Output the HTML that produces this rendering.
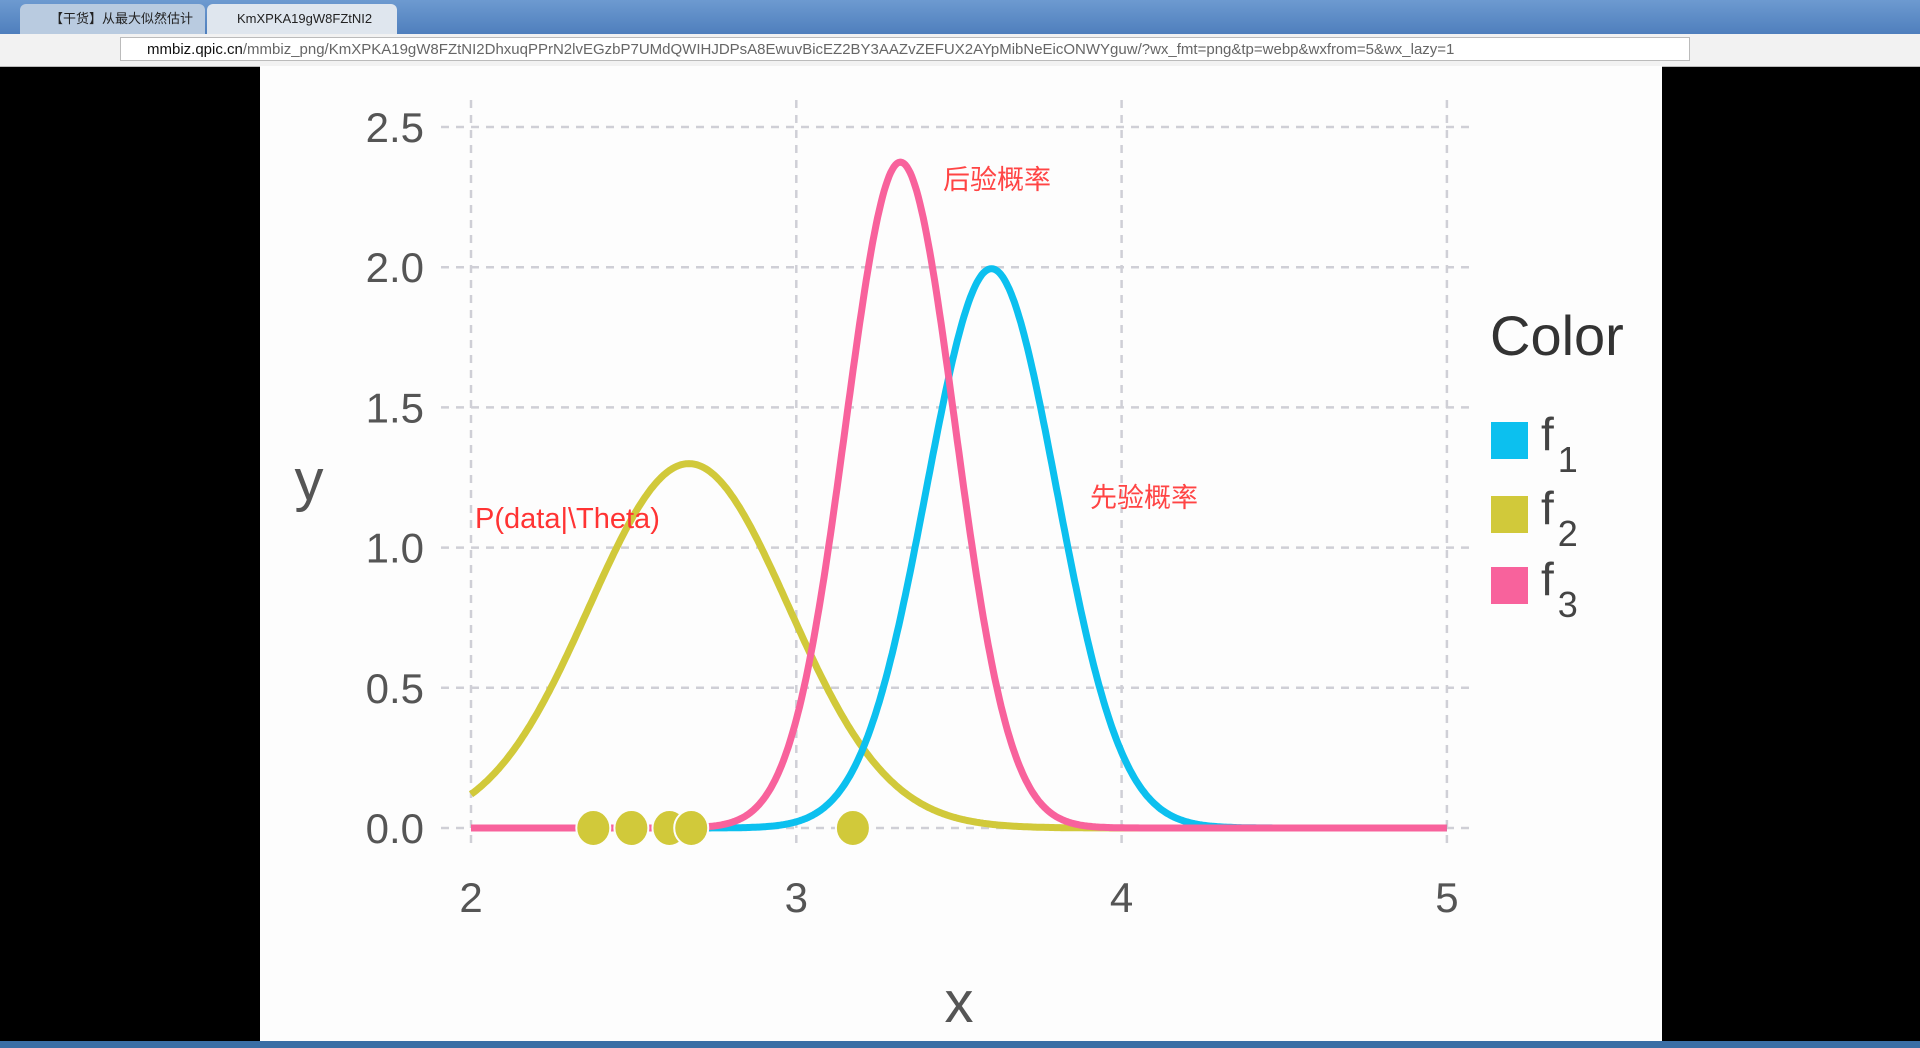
<!DOCTYPE html>
<html><head><meta charset="utf-8"><style>
html,body{margin:0;padding:0;width:1920px;height:1048px;overflow:hidden;background:#000;font-family:"Liberation Sans","Noto Sans CJK SC",sans-serif}
#tabs{position:absolute;left:0;top:0;width:1920px;height:34px;background:linear-gradient(#6d9ad0,#4f7fbd)}
.tab{position:absolute;top:4px;height:30px;background:#dfe6ee;border-radius:6px 6px 0 0;font-size:13px;line-height:30px;padding-left:30px;box-sizing:border-box;color:#222}
#addr{position:absolute;left:0;top:34px;width:1920px;height:32px;background:#f2f2f2;border-bottom:1px solid #bbb}
#url{position:absolute;left:120px;top:3px;width:1570px;height:24px;background:#fff;border:1px solid #bbb;font-size:15px;line-height:24px;padding-left:26px;box-sizing:border-box;color:#111;white-space:nowrap;overflow:hidden}
#task{position:absolute;left:0;top:1041px;width:1920px;height:7px;background:#3a6ea5}
svg{position:absolute;left:0;top:0}
</style></head><body>
<div id="tabs">
<div class="tab" style="left:20px;width:185px;background:#b9cbe0">【干货】从最大似然估计</div>
<div class="tab" style="left:207px;width:190px">KmXPKA19gW8FZtNI2</div>
</div>
<div id="addr">
<div id="url">mmbiz.qpic.cn<span style="color:#666">/mmbiz_png/KmXPKA19gW8FZtNI2DhxuqPPrN2lvEGzbP7UMdQWIHJDPsA8EwuvBicEZ2BY3AAZvZEFUX2AYpMibNeEicONWYguw/?wx_fmt=png&amp;tp=webp&amp;wxfrom=5&amp;wx_lazy=1</span></div>
</div>
<div id="task"></div>
<svg id="chart" width="1920" height="1048"></svg>
<script>
const xTicks=[2,3,4,5];
const yTicks=[0.0,0.5,1.0,1.5,2.0,2.5];
const seriesNames=["f1","f2","f3"];
const seriesMeans=[3.6,2.67,3.32];
const seriesSds=[0.2,0.307,0.168];
const seriesColors=["#0cc0ef","#d1c93a","#f8629c"];
const dataPoints=[2.376,2.493,2.61,2.677,3.174];

const NS="http://www.w3.org/2000/svg";
const svg=document.getElementById('chart');
function X(v){return 471+(v-2)*325.3;}
function Y(v){return 828-v*280.4;}
function el(t,a,p){const e=document.createElementNS(NS,t);for(const k in a)e.setAttribute(k,a[k]);(p||svg).appendChild(e);return e;}
const bg=el('rect',{x:260,y:66,width:1402,height:975,fill:'#fdfdfd'});


xTicks.forEach(t=>{
 const l=el('line',{x1:X(t),x2:X(t),y1:100,y2:847,stroke:'#cfcfd6','stroke-width':2.5,'stroke-dasharray':'8,7'});
 
 
 const s=el('text',{x:X(t),y:912,'text-anchor':'middle','font-size':42,fill:'#555'});s.textContent=t;
 
 
});
yTicks.forEach(t=>{
 const l=el('line',{x1:441,x2:1469,y1:Y(t),y2:Y(t),stroke:'#cfcfd6','stroke-width':2.5,'stroke-dasharray':'8,7'});
 
 
 const s=el('text',{x:424,y:Y(t)+15,'text-anchor':'end','font-size':42,fill:'#555'});s.textContent=t.toFixed(1);
 
 
});
function dens(x,m,s){return Math.exp(-0.5*((x-m)/s)**2)/(s*Math.sqrt(2*Math.PI));}
[1,0,2].forEach(i=>{
 let d='';for(let k=0;k<=600;k++){const x=2+3*k/600;d+=(k?'L':'M')+X(x).toFixed(1)+','+Y(dens(x,seriesMeans[i],seriesSds[i])).toFixed(1);}
 const p=el('path',{d:d,fill:'none',stroke:seriesColors[i],'stroke-width':7,'stroke-linejoin':'round'});
 
 
});
dataPoints.forEach(v=>{
 const c=el('ellipse',{cx:X(v),cy:Y(0),rx:17,ry:18,fill:'#d1c93a',stroke:'#fdfdfd','stroke-width':2});
 
 
});
function txt(s,a,name){const t=el('text',a);t.textContent=s;return t;}
txt('x',{x:959,y:1022,'text-anchor':'middle','font-size':58,fill:'#555'},'x-axis-title');
txt('y',{x:309,y:500,'text-anchor':'middle','font-size':58,fill:'#555'},'y-axis-title');
txt('后验概率',{x:943,y:189,'font-size':27,fill:'#f44'},'posterior-annotation');
txt('先验概率',{x:1090,y:507,'font-size':27,fill:'#f44'},'prior-annotation');
txt('P(data|\\Theta)',{x:475,y:528,'font-size':29,fill:'#f33'},'likelihood-annotation');
txt('Color',{x:1490,y:355,'font-size':56,fill:'#333'},'legend-title');
const ly=[422,496,567];
[0,1,2].forEach(i=>{
 const r=el('rect',{x:1491,y:ly[i],width:37,height:37,fill:seriesColors[i]});
 
 
 const t=el('text',{x:1541,y:ly[i]+28,'font-size':46,fill:'#444'});
 
 
 t.textContent='f';
 const sb=el('tspan',{dy:22,dx:4,'font-size':36},t);sb.textContent=String(i+1);
});
</script>
</body></html>
